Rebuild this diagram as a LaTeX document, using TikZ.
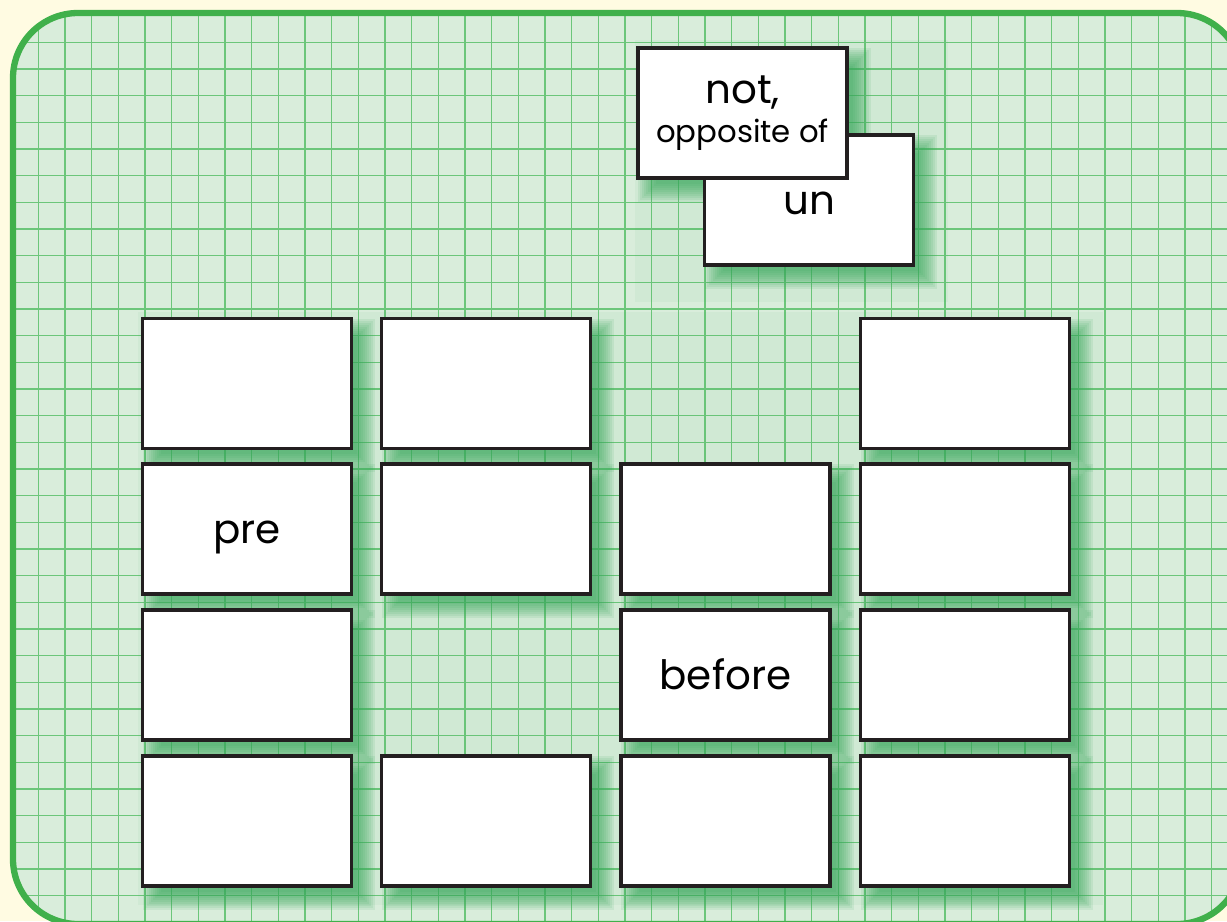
\documentclass[tikz,border=0pt]{standalone}
\usepackage{fontspec}
\setmainfont{Poppins}
\usetikzlibrary{calc}
\definecolor{PaperCream}{RGB}{255,251,226}
\definecolor{BoardGreen}{RGB}{64,176,75}
\definecolor{BoardFill}{RGB}{217,237,219}
\definecolor{GridGreen}{RGB}{108,198,122}
\definecolor{ShadeGreen}{RGB}{56,168,92}
\definecolor{CardEdge}{RGB}{35,31,32}
\pgfdeclarelayer{boardlayer}
\pgfdeclarelayer{shadelayer}
\pgfsetlayers{boardlayer,shadelayer,main}
\tikzset{
  board/.style={draw=BoardGreen,line width=3.6pt,rounded corners=1.3cm},
  gridline/.style={draw=GridGreen,line width=0.75pt},
  card/.style={draw=CardEdge,fill=white,line width=1.8pt,inner sep=0pt,
    minimum width=4.18cm,minimum height=2.6cm,align=center,
    font=\fontsize{23}{22}\selectfont},
  wordcard/.style={card,text height=16pt,text depth=0pt},
  shadeband/.style={fill=ShadeGreen,opacity=0.11},
  haze/.style={fill=ShadeGreen,opacity=0.05}
}

\begin{document}
\begin{tikzpicture}[x=0.02cm,y=-0.02cm]
  \useasboundingbox (0,0) rectangle (1227,921);
  \node[wordcard] (uncard) at (809,200) {un};
  \node[card] (notcard) at (742.5,113) {not,\\{\fontsize{17.5}{22}\selectfont opposite of}};
  \node[card] (r1c1) at (247,383.5) {};
  \node[card] (r1c2) at (486,383.5) {};
  \node[card] (r1c4) at (965,383.5) {};
  \node[wordcard] (r2c1) at (247,529) {pre};
  \node[card] (r2c2) at (486,529) {};
  \node[card] (r2c3) at (725.5,529) {};
  \node[card] (r2c4) at (965,529) {};
  \node[card] (r3c1) at (247,675) {};
  \node[wordcard] (r3c3) at (725.5,675) {before};
  \node[card] (r3c4) at (965,675) {};
  \node[card] (r4c1) at (247,821) {};
  \node[card] (r4c2) at (486,821) {};
  \node[card] (r4c3) at (725.5,821) {};
  \node[card] (r4c4) at (965,821) {};
  \begin{pgfonlayer}{boardlayer}
    \fill[PaperCream] (0,0) rectangle (1227,921);
    \fill[BoardFill,rounded corners=1.3cm] (13,13) rectangle (1242,924);
    \begin{scope}
      \clip[rounded corners=1.3cm] (13,13) rectangle (1242,924);
      \foreach \i in {0,...,45}
        \draw[gridline] ({38.3+26.67*\i},0) -- ++(0,940);
      \foreach \j in {0,...,34}
        \draw[gridline] (0,{42.3+26.67*\j}) -- ++(1250,0);
    \end{scope}
    \draw[board] (13,13) rectangle (1242,924);
  \end{pgfonlayer}
  \begin{pgfonlayer}{shadelayer}
    \fill[haze] (635,40) rectangle (948,302);
    \fill[haze] (138,312) rectangle (1103,905);
    \foreach \n in {uncard,notcard,r1c1,r1c2,r1c4,r2c1,r2c2,r2c3,r2c4,
                    r3c1,r3c3,r3c4,r4c1,r4c2,r4c3,r4c4}
      \foreach \k in {0,...,9}
        \fill[shadeband] ($(\n.north west)+({2+2*\k},{2+2*\k})$)
          rectangle ($(\n.south east)+({22-2*\k},{22-2*\k})$);
  \end{pgfonlayer}
\end{tikzpicture}
\end{document}
